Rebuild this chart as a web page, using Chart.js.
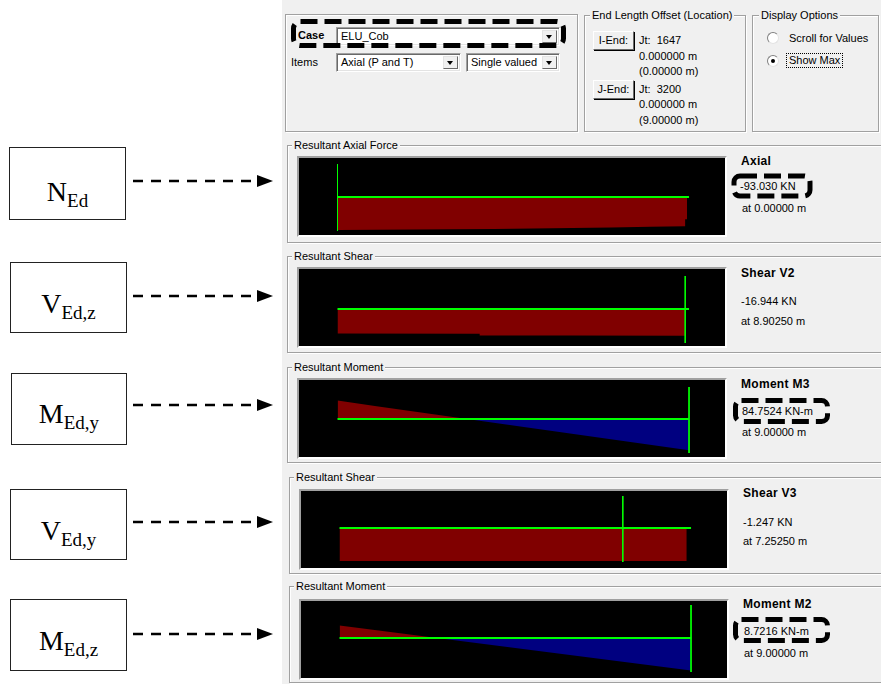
<!DOCTYPE html>
<html><head><meta charset="utf-8">
<script src="https://cdn.jsdelivr.net/npm/chart.js@4.4.0/dist/chart.umd.min.js"></script>
<style>
html,body{margin:0;padding:0;}
body{width:881px;height:684px;position:relative;overflow:hidden;background:#fff;font-family:"Liberation Sans",Arial,sans-serif;font-size:11px;color:#000;}
#panel{position:absolute;left:282px;top:0;width:599px;height:684px;background:#f0f0f0;}
.frame{position:absolute;box-sizing:border-box;border:1px solid #a0a0a0;box-shadow:inset 1px 1px 0 #fff,1px 1px 0 #fff;}
.flabel{position:absolute;background:#f0f0f0;padding:0 2px;line-height:14px;white-space:nowrap;}
.t{position:absolute;white-space:nowrap;line-height:14px;}
.b{font-weight:bold;}
.b12{font-weight:bold;font-size:12px;letter-spacing:0.3px;}
.plot{position:absolute;border:2px solid;border-color:#a0a0a0 #fff #fff #a0a0a0;background:#000;width:426px;height:77px;}
.plot canvas{display:block;}
.combo{position:absolute;box-sizing:border-box;background:#fff;border:1px solid;border-color:#a0a0a0 #fff #fff #a0a0a0;box-shadow:inset 1px 1px 0 #696969,inset -1px -1px 0 #e3e3e3;}
.combo span{position:absolute;left:4px;top:1px;line-height:14px;white-space:nowrap;}
.dd{position:absolute;right:2px;top:2px;bottom:2px;width:15px;box-sizing:border-box;background:#f0f0f0;border:1px solid;border-color:#e3e3e3 #696969 #696969 #e3e3e3;}
.dd::after{content:'';position:absolute;left:50%;top:50%;margin-left:-3.5px;margin-top:-2px;border-left:3.5px solid transparent;border-right:3.5px solid transparent;border-top:4px solid #000;}
.btn{position:absolute;box-sizing:border-box;background:#f0f0f0;border:1px solid;border-color:#fff #696969 #696969 #fff;box-shadow:1px 1px 0 #000;text-align:center;line-height:16px;}
.radio{position:absolute;width:12px;height:12px;box-sizing:border-box;border-radius:50%;background:#fff;border:1px solid;border-color:#808080 #e3e3e3 #e3e3e3 #808080;}
.radio.on::after{content:'';position:absolute;left:3px;top:3px;width:4px;height:4px;border-radius:50%;background:#000;}
.box{position:absolute;box-sizing:border-box;border:1px solid #222;background:#fff;}
.sym{position:absolute;left:0;width:100%;text-align:center;font-family:"Liberation Serif","Times New Roman",serif;font-size:28px;line-height:28px;white-space:nowrap;}
.sym sub{font-size:19px;vertical-align:-6px;line-height:0;}
svg{position:absolute;left:0;top:0;}
</style>
</head>
<body>
<div id="panel"></div>

<!-- top section -->
<div class="frame" style="left:285px;top:14px;width:293px;height:118px;"></div>
<div class="t b" style="left:298px;top:28px;">Case</div>
<div class="combo" style="left:336px;top:27px;width:224px;height:19px;"><span>ELU_Cob</span><div class="dd"></div></div>
<div class="t" style="left:291px;top:55px;">Items</div>
<div class="combo" style="left:336px;top:53px;width:125px;height:19px;"><span>Axial (P and T)</span><div class="dd"></div></div>
<div class="combo" style="left:466px;top:53px;width:94px;height:19px;"><span>Single valued</span><div class="dd"></div></div>

<div class="frame" style="left:584px;top:15px;width:162px;height:117px;"></div>
<div class="flabel" style="left:590px;top:8px;">End Length Offset (Location)</div>
<div class="btn" style="left:593px;top:31px;width:41px;height:19px;">I-End:</div>
<div class="t" style="left:639px;top:33px;">Jt:&nbsp; 1647</div>
<div class="t" style="left:639px;top:49px;">0.000000 m</div>
<div class="t" style="left:639px;top:64px;">(0.00000 m)</div>
<div class="btn" style="left:593px;top:80px;width:41px;height:19px;">J-End:</div>
<div class="t" style="left:639px;top:82px;">Jt:&nbsp; 3200</div>
<div class="t" style="left:639px;top:97px;">0.000000 m</div>
<div class="t" style="left:639px;top:113px;">(9.00000 m)</div>

<div class="frame" style="left:752px;top:15px;width:127px;height:117px;"></div>
<div class="flabel" style="left:759px;top:8px;">Display Options</div>
<div class="radio" style="left:767px;top:32px;"></div>
<div class="t" style="left:789px;top:31px;">Scroll for Values</div>
<div class="radio on" style="left:767px;top:55px;"></div>
<div class="t" style="left:786px;top:53px;border:1px dotted #000;padding:0 2px;line-height:13px;">Show Max</div>

<!-- result frames -->
<div class="frame" style="left:287px;top:145px;width:620px;height:98px;"></div>
<div class="flabel" style="left:292px;top:138px;">Resultant Axial Force</div>
<div class="frame" style="left:287px;top:256px;width:620px;height:97px;"></div>
<div class="flabel" style="left:292px;top:249px;">Resultant Shear</div>
<div class="frame" style="left:287px;top:367px;width:620px;height:96px;"></div>
<div class="flabel" style="left:292px;top:360px;">Resultant Moment</div>
<div class="frame" style="left:289px;top:477px;width:620px;height:97px;"></div>
<div class="flabel" style="left:294px;top:470px;">Resultant Shear</div>
<div class="frame" style="left:289px;top:586px;width:620px;height:97px;"></div>
<div class="flabel" style="left:294px;top:579px;">Resultant Moment</div>

<div class="plot" style="left:297px;top:156px;"><canvas id="c1" width="426" height="77"></canvas></div>
<div class="plot" style="left:297px;top:267px;"><canvas id="c2" width="426" height="77"></canvas></div>
<div class="plot" style="left:297px;top:378px;"><canvas id="c3" width="426" height="77"></canvas></div>
<div class="plot" style="left:299px;top:489px;"><canvas id="c4" width="426" height="77"></canvas></div>
<div class="plot" style="left:299px;top:599px;"><canvas id="c5" width="426" height="77"></canvas></div>

<div class="t b12" style="left:741px;top:154px;">Axial</div>
<div class="t" style="left:740px;top:179px;">-93.030 KN</div>
<div class="t" style="left:742px;top:201px;">at 0.00000 m</div>

<div class="t b12" style="left:741px;top:266px;">Shear V2</div>
<div class="t" style="left:741px;top:294px;">-16.944 KN</div>
<div class="t" style="left:741px;top:314px;">at 8.90250 m</div>

<div class="t b12" style="left:741px;top:377px;">Moment M3</div>
<div class="t" style="left:742px;top:404px;">84.7524 KN-m</div>
<div class="t" style="left:742px;top:425px;">at 9.00000 m</div>

<div class="t b12" style="left:743px;top:486px;">Shear V3</div>
<div class="t" style="left:743px;top:515px;">-1.247 KN</div>
<div class="t" style="left:743px;top:534px;">at 7.25250 m</div>

<div class="t b12" style="left:743px;top:597px;">Moment M2</div>
<div class="t" style="left:744px;top:624px;">8.7216 KN-m</div>
<div class="t" style="left:744px;top:646px;">at 9.00000 m</div>

<!-- left labels -->
<div class="box" style="left:9px;top:147px;width:117px;height:73px;"><div class="sym" style="top:30px;">N<sub>Ed</sub></div></div>
<div class="box" style="left:10px;top:262px;width:117px;height:71px;"><div class="sym" style="top:27px;">V<sub>Ed,z</sub></div></div>
<div class="box" style="left:11px;top:373px;width:116px;height:72px;"><div class="sym" style="top:26px;">M<sub>Ed,y</sub></div></div>
<div class="box" style="left:10px;top:489px;width:117px;height:71px;"><div class="sym" style="top:27px;">V<sub>Ed,y</sub></div></div>
<div class="box" style="left:10px;top:599px;width:117px;height:72px;"><div class="sym" style="top:27px;">M<sub>Ed,z</sub></div></div>

<svg width="881" height="684" viewBox="0 0 881 684">
  <g stroke="#000" stroke-width="2.5" stroke-dasharray="10 8" fill="none">
    <line x1="133" y1="181" x2="257" y2="181"/>
    <line x1="133" y1="296" x2="257" y2="296"/>
    <line x1="133" y1="405" x2="257" y2="405"/>
    <line x1="133" y1="522" x2="257" y2="522"/>
    <line x1="133" y1="634" x2="257" y2="634"/>
  </g>
  <g fill="#000">
    <polygon points="257,175 273,181 257,187"/>
    <polygon points="257,290 273,296 257,302"/>
    <polygon points="257,399 273,405 257,411"/>
    <polygon points="257,516 273,522 257,528"/>
    <polygon points="257,628 273,634 257,640"/>
  </g>
  <g stroke="#000" stroke-width="5" stroke-dasharray="17 7" fill="none">
    <rect x="293.5" y="21.5" width="270" height="24" rx="7"/>
    <rect x="734" y="176" width="76" height="20" rx="6"/>
    <rect x="735.5" y="400.5" width="92" height="21" rx="6"/>
    <rect x="735.5" y="619.5" width="92" height="21" rx="6"/>
  </g>
</svg>

<script>
// ---- data ----
const beamLength = 9; // m
// Axial force N (KN)
const axialStations = [0, 1, 2, 3, 4, 5, 6, 7, 8, 8.9, 8.9, 8.95];
const axialValues   = [-93.03, -92.4, -91.6, -90.9, -90.1, -89.0, -87.6, -85.9, -84.2, -82.8, -63.0, -63.0];
const axialMaxAt = 0;
// Shear V2 (KN)
const shearV2Stations = [0, 3.64, 3.64, 6, 8.9025];
const shearV2Values   = [-15.6, -15.7, -16.8, -16.85, -16.944];
const shearV2MaxAt = 8.9025;
// Moment M3 (KN-m)
const momentM3Stations = [0, 1, 2, 3, 4, 5, 6, 7, 8, 9];
const momentM3Values   = [50.0, 34.9, 19.9, 4.8, -10.3, -25.4, -40.4, -55.0, -69.8, -84.7524];
const momentM3MaxAt = 9;
// Shear V3 (KN)
const shearV3Stations = [0, 3, 6, 7.2525, 8.89];
const shearV3Values   = [-1.243, -1.245, -1.246, -1.247, -1.246];
const shearV3MaxAt = 7.2525;
// Moment M2 (KN-m)
const momentM2Stations = [0, 1, 2, 3, 4, 5, 6, 7, 8, 9];
const momentM2Values   = [3.35, 2.01, 0.67, -0.67, -2.01, -3.36, -4.70, -6.04, -7.38, -8.7216];
const momentM2MaxAt = 9;

// ---- drawing ----
const RED = 'rgb(128,0,0)', BLUE = 'rgb(0,0,128)', GREEN = 'rgb(0,255,0)';
const PX_PER_M = 39.06, W = 426, H = 77;

function pts(xs, ys){ return xs.map((x,i)=>({x:x, y:ys[i]})); }

function build(id, xs, ys, maxAt, st){
  const xMin = -st.x0 / PX_PER_M;
  const xMax = xMin + W / PX_PER_M;
  const yMax = st.zero * st.upp;
  const yMin = -(H - st.zero) * st.upp;
  const v = px => yMax - px * st.upp;
  new Chart(document.getElementById(id), {
    type: 'line',
    data: { datasets: [
      { data: [{x:maxAt, y:v(st.mTop)}, {x:maxAt, y:v(st.mBot)}], borderColor: GREEN, borderWidth: 1, pointRadius: 0, fill: false, order: 0 },
      { data: [{x:0, y:0}, {x:beamLength, y:0}], borderColor: GREEN, borderWidth: 2, pointRadius: 0, fill: false, order: 1 },
      { data: pts(xs, ys), borderColor: 'rgba(0,0,0,0)', borderWidth: 0, pointRadius: 0, tension: 0,
        fill: { target: 'origin', above: st.above, below: st.below }, order: 2 }
    ]},
    options: {
      responsive: false, animation: false, devicePixelRatio: 1, events: [],
      layout: { padding: 0 },
      plugins: { legend: { display: false }, tooltip: { enabled: false } },
      scales: {
        x: { type: 'linear', min: xMin, max: xMax, display: false },
        y: { type: 'linear', min: yMin, max: yMax, display: false }
      }
    }
  });
}

build('c1', axialStations, axialValues, axialMaxAt,       { x0: 38.5, zero: 39, upp: 2.82,  mTop: 6, mBot: 73, above: RED, below: RED });
build('c2', shearV2Stations, shearV2Values, shearV2MaxAt, { x0: 38.5, zero: 40, upp: 0.635, mTop: 7, mBot: 74, above: RED, below: RED });
build('c3', momentM3Stations, momentM3Values, momentM3MaxAt, { x0: 38.5, zero: 39, upp: 2.72, mTop: 7, mBot: 73, above: RED, below: BLUE });
build('c4', shearV3Stations, shearV3Values, shearV3MaxAt, { x0: 38.5, zero: 37, upp: 0.0378, mTop: 5, mBot: 71, above: RED, below: RED });
build('c5', momentM2Stations, momentM2Values, momentM2MaxAt, { x0: 38.5, zero: 37, upp: 0.2684, mTop: 4, mBot: 71, above: RED, below: BLUE });
</script>
</body></html>
